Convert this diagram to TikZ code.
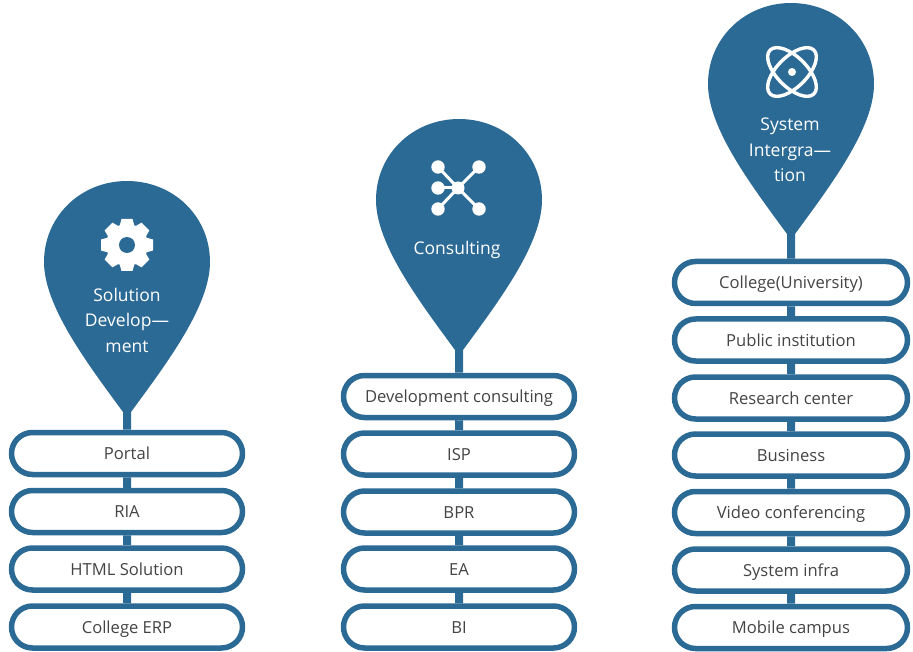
\documentclass[tikz,border=0pt]{standalone}
\usepackage{fontspec}
\setmainfont{Open Sans}
\usetikzlibrary{shapes.misc}
\definecolor{pinblue}{HTML}{2C6A96}
\definecolor{boxtext}{HTML}{444444}
\tikzset{
	itembox/.style={rounded rectangle, draw=pinblue, line width=5.5pt, fill=white, text=boxtext,
		minimum height=42pt, inner sep=0pt, text height=16pt, text depth=3.5pt,
		font=\fontsize{16.6}{20}\selectfont},
	pinlabel/.style={text=white, align=center, inner sep=0pt, font=\fontsize{17.5}{25.5}\selectfont},
	stem/.style={draw=pinblue, line width=8pt},
	iconline/.style={draw=white, line width=3pt}
}
\begin{document}
\begin{tikzpicture}[x=1pt,y=-1pt, line join=round]
	\useasboundingbox (0,0) rectangle (913,652);
	% pins
	\foreach \c/\t in {127/181,459/119,791/3}{
		\fill[pinblue] (\c-4,\t+231) .. controls (\c-40,\t+182) and (\c-83,\t+125) .. (\c-83,\t+81)
			.. controls (\c-83,\t+35) and (\c-46,\t) .. (\c,\t)
			.. controls (\c+46,\t) and (\c+83,\t+35) .. (\c+83,\t+81)
			.. controls (\c+83,\t+125) and (\c+40,\t+182) .. (\c+4,\t+231) -- cycle;
	}
	\coordinate (tipA) at (127,405);
	\coordinate (tipB) at (459,343);
	\coordinate (tipC) at (791,227);
	% first column
	\node[itembox, minimum width=231pt] (portal) at (127,453.5) {Portal};
	\node[itembox, minimum width=231pt] (ria) at (127,511.5) {RIA};
	\node[itembox, minimum width=231pt] (html) at (127,569) {HTML Solution};
	\node[itembox, minimum width=231pt] (erp) at (127,627) {College ERP};
	% second column
	\node[itembox, minimum width=231pt] (devcons) at (459,396.5) {Development consulting};
	\node[itembox, minimum width=231pt] (isp) at (459,454) {ISP};
	\node[itembox, minimum width=231pt] (bpr) at (459,512) {BPR};
	\node[itembox, minimum width=231pt] (ea) at (459,569) {EA};
	\node[itembox, minimum width=231pt] (bi) at (459,627) {BI};
	% third column
	\node[itembox, minimum width=233pt] (college) at (791,282.5) {College(University)};
	\node[itembox, minimum width=233pt] (public) at (791,340) {Public institution};
	\node[itembox, minimum width=233pt] (research) at (791,398) {Research center};
	\node[itembox, minimum width=233pt] (business) at (791,455) {Business};
	\node[itembox, minimum width=233pt] (video) at (791,512.5) {Video conferencing};
	\node[itembox, minimum width=233pt] (infra) at (791,570) {System infra};
	\node[itembox, minimum width=233pt] (mobile) at (791,627.5) {Mobile campus};
	% connectors
	\foreach \a/\b in {tipA/portal,portal/ria,ria/html,html/erp,
		tipB/devcons,devcons/isp,isp/bpr,bpr/ea,ea/bi,
		tipC/college,college/public,public/research,research/business,business/video,video/infra,infra/mobile}
	\draw[stem] (\a) -- (\b);
	% labels
	\node[pinlabel] (solution) at (127,320) {Solution\\Develop---\\ment};
	\node[pinlabel] (consulting) at (457,250) {Consulting};
	\node[pinlabel] (system) at (790,150) {System\\Intergra---\\tion};
	% gear
	\fill[white] (127,245) circle (21);
	\foreach \g in {0,45,...,315}
	\fill[white, rotate around={\g:(127,245)}] (121.5,219) -- (132.5,219) -- (135,228) -- (119,228) -- cycle;
	\fill[pinblue] (127,245) circle (8);
	% network
	\foreach \x/\y in {438/167,479/167,438/188,438/209,479/209}{
		\draw[iconline] (458,188) -- (\x,\y);
		\fill[white] (\x,\y) circle (6.7);
	}
	\fill[white] (458,188) circle (6.5);
	% atom
	\draw[iconline, line width=3.4pt] (792,72) ellipse[x radius=31, y radius=15, rotate=45];
	\draw[iconline, line width=3.4pt] (792,72) ellipse[x radius=31, y radius=15, rotate=-45];
	\fill[white] (792,72) circle (4);
\end{tikzpicture}
\end{document}
